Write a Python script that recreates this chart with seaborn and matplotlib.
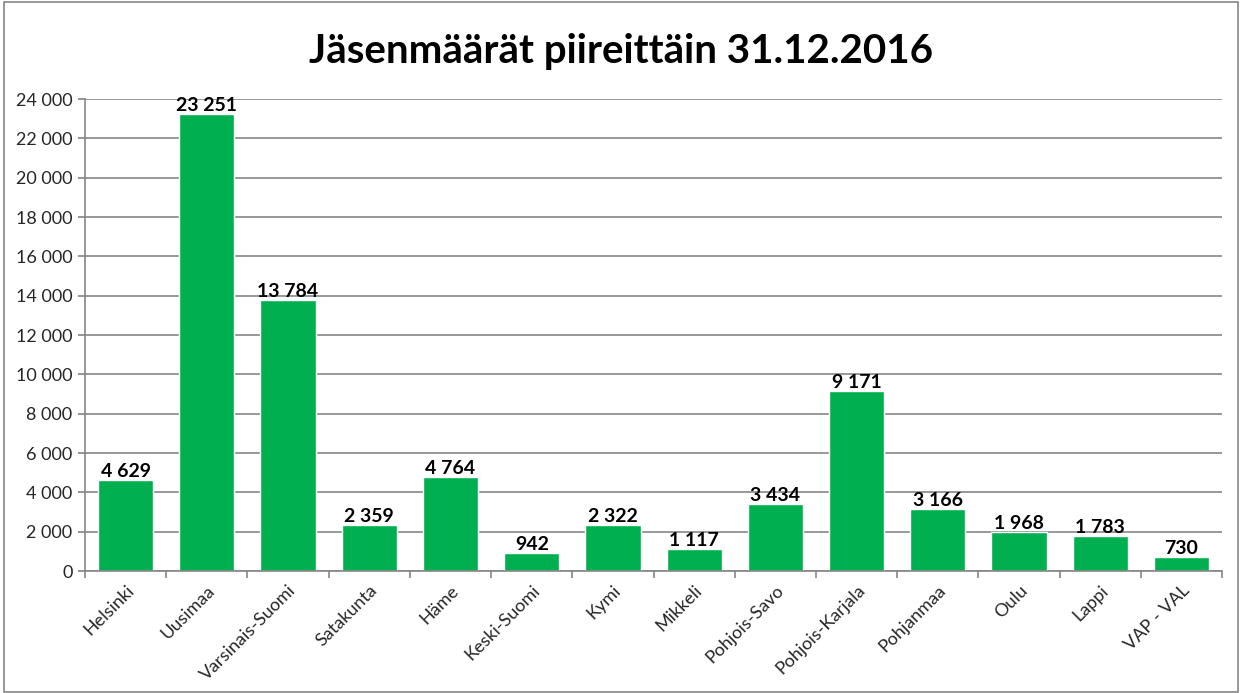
import numpy as np
import matplotlib.pyplot as plt
import matplotlib.ticker as mticker
from matplotlib.patches import Rectangle
import seaborn as sns

piirit = ['Helsinki', 'Uusimaa', 'Varsinais-Suomi', 'Satakunta', 'Häme', 'Keski-Suomi',
          'Kymi', 'Mikkeli', 'Pohjois-Savo', 'Pohjois-Karjala', 'Pohjanmaa', 'Oulu',
          'Lappi', 'VAP - VAL']
jasenet = [4629, 23251, 13784, 2359, 4764, 942, 2322, 1117, 3434, 9171, 3166, 1968, 1783, 730]


def fmt(v, pos=None):
	return f'{int(v):,}'.replace(',', ' ')


sns.set_theme(style='white')
plt.rcParams['font.family'] = ['Lato', 'DejaVu Sans']

fig = plt.figure(figsize=(12.42, 6.93), dpi=100)
ax = fig.add_axes([0.0684, 0.176, 0.9156, 0.681])
sns.barplot(x=piirit, y=jasenet, color='#00B050', saturation=1, width=0.68, ax=ax)

ax.set_ylim(0, 24000)
ax.set_xlim(-0.5, len(piirit) - 0.5)
ax.yaxis.set_major_locator(mticker.MultipleLocator(2000))
ax.yaxis.set_major_formatter(mticker.FuncFormatter(fmt))
ax.yaxis.grid(True, color='#868686', linewidth=1.2)
ax.set_axisbelow(True)

for s in ['top', 'right']:
	ax.spines[s].set_visible(False)
for s in ['left', 'bottom']:
	ax.spines[s].set_color('#868686')
	ax.spines[s].set_linewidth(1.2)

ax.tick_params(axis='y', left=True, length=5, color='#868686', labelsize=13, pad=4)
ax.set_xticks(range(len(piirit)))
ax.set_xticklabels(piirit, rotation=45, ha='right', rotation_mode='anchor', fontsize=13)
ax.tick_params(axis='x', which='major', length=0, pad=8)
ax.set_xticks(np.arange(-0.5, len(piirit)), minor=True)
ax.tick_params(axis='x', which='minor', bottom=True, length=5, color='#868686', width=1.2)

for i, v in enumerate(jasenet):
	ax.text(i, v, fmt(v), ha='center', va='bottom', fontsize=14, fontweight='bold', color='black')

fig.text(0.5, 0.925, 'Jäsenmäärät piireittäin 31.12.2016', ha='center', va='center',
         fontsize=29, fontweight='bold', color='black')

fig.patches.append(Rectangle((0.003, 0.002), 0.994, 0.995, transform=fig.transFigure,
                             fill=False, edgecolor='#868686', linewidth=1.2))

fig.savefig('out.png', dpi=100)
